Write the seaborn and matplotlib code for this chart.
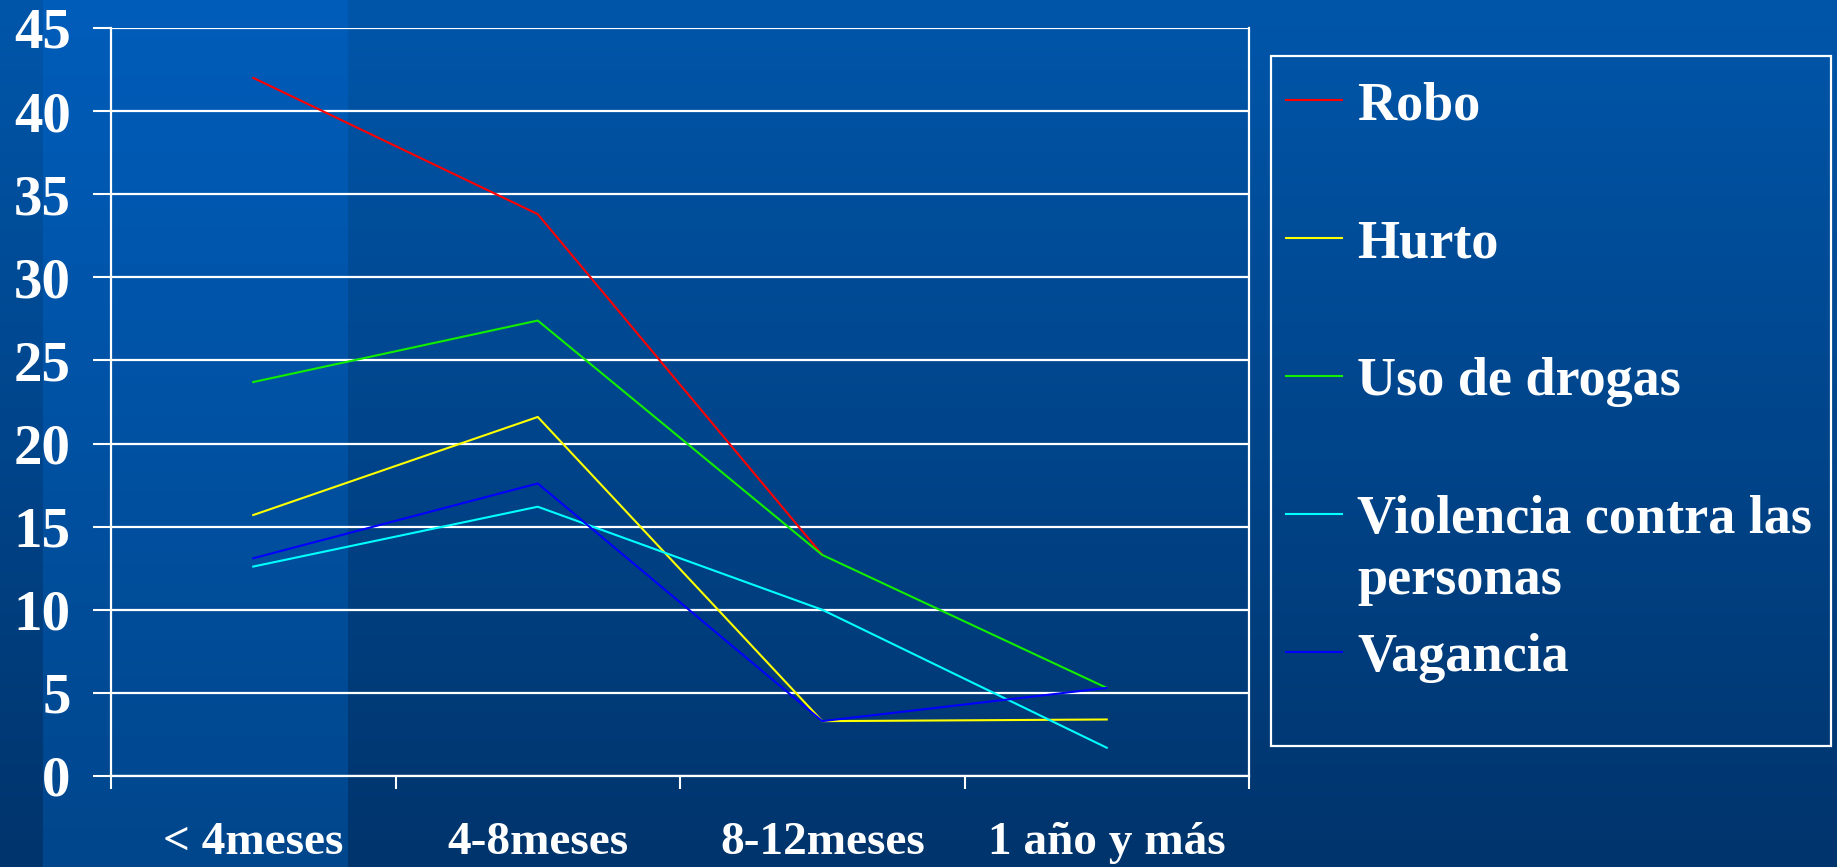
import numpy as np
import pandas as pd
import matplotlib
matplotlib.use("Agg")
import matplotlib.pyplot as plt
from matplotlib.patches import Rectangle
from matplotlib.lines import Line2D
import seaborn as sns

# data
periodos = ["< 4meses", "4-8meses", "8-12meses", "1 año y más"]
delitos = ["Robo", "Hurto", "Uso de drogas", "Violencia contra las\npersonas", "Vagancia"]
robo = [42.0, 33.8, 13.3, np.nan]
hurto = [15.7, 21.6, 3.3, 3.4]
uso_drogas = [23.7, 27.4, 13.3, 5.3]
violencia = [12.6, 16.2, 10.0, 1.7]
vagancia = [13.1, 17.6, 3.3, 5.3]
colores = ["#FF0000", "#FFFF00", "#11EE00", "#00FFFF", "#0000FF"]
y_ticks = [0, 5, 10, 15, 20, 25, 30, 35, 40, 45]

series = [robo, hurto, uso_drogas, violencia, vagancia]
df = pd.DataFrame({
    "periodo": periodos * len(delitos),
    "delito": [d for d in delitos for _ in periodos],
    "valor": [v for s in series for v in s],
}).dropna()

W, H = 1837, 867
fig = plt.figure(figsize=(W / 100, H / 100), dpi=100)

# slide background: vertical blue gradient with lighter band on the left
t = np.linspace(0, 1, H)[:, None]
top_main, bot_main = np.array([0, 86, 170]), np.array([0, 52, 108])
top_band, bot_band = np.array([0, 93, 186]), np.array([0, 70, 140])
main = top_main + (bot_main - top_main) * t
band = top_band + (bot_band - top_band) * t
img = np.repeat(main[:, None, :], W, axis=1)
img[:, 43:348, :] = band[:, None, :]
bg = fig.add_axes([0, 0, 1, 1], zorder=-10)
bg.imshow(img.astype(np.uint8), aspect="auto", extent=[0, 1, 0, 1])
bg.axis("off")

font = {"family": "Liberation Serif", "weight": "bold"}

ax = fig.add_axes([111 / W, 1 - 776 / H, (1249 - 111) / W, (776 - 28) / H])
ax.patch.set_alpha(0)

sns.lineplot(data=df, x="periodo", y="valor", hue="delito", hue_order=delitos,
             palette=colores, linewidth=1.5, legend=False, sort=False, ax=ax)

ax.set_xlim(-0.5, len(periodos) - 0.5)
ax.set_ylim(0, 45)
ax.set_xlabel("")
ax.set_ylabel("")

ax.set_yticks(y_ticks)
ax.set_yticklabels([str(v) for v in y_ticks], fontdict=font, fontsize=41, color="white")
ax.tick_params(axis="y", colors="white", length=13, width=1.5, pad=16)
ax.yaxis.grid(True, color="white", linewidth=1.6)
ax.xaxis.grid(False)
ax.set_axisbelow(True)

ax.set_xticks(np.arange(len(periodos) + 1) - 0.5)
ax.set_xticklabels([])
ax.set_xticks(np.arange(len(periodos)), minor=True)
ax.set_xticklabels(periodos, minor=True, fontdict=font, fontsize=34, color="white")
ax.tick_params(axis="x", which="major", colors="white", length=9, width=1.5)
ax.tick_params(axis="x", which="minor", length=0, pad=33, colors="white")

for side in ["left", "right", "bottom"]:
    ax.spines[side].set_color("white")
    ax.spines[side].set_linewidth(1.6)
ax.spines["top"].set_visible(False)

# legend box drawn in figure pixels
def fx(x):
    return x / W

def fy(y):
    return 1 - y / H

fig.add_artist(Rectangle((fx(1271), fy(746)), fx(1831) - fx(1271), fy(56) - fy(746),
                         transform=fig.transFigure, fill=False, edgecolor="white", linewidth=1.6))
line_y = [100, 238, 376, 514, 652]
for label, color, ly in zip(delitos, colores, line_y):
    fig.add_artist(Line2D([fx(1286), fx(1342)], [fy(ly), fy(ly)], color=color,
                          linewidth=1.5, transform=fig.transFigure))
    for i, part in enumerate(label.split("\n")):
        fig.text(fx(1357), fy(ly + 19 + 61 * i), part, color="white", fontsize=39,
                 va="baseline", ha="left", **font)

fig.savefig("out.png", dpi=100)
